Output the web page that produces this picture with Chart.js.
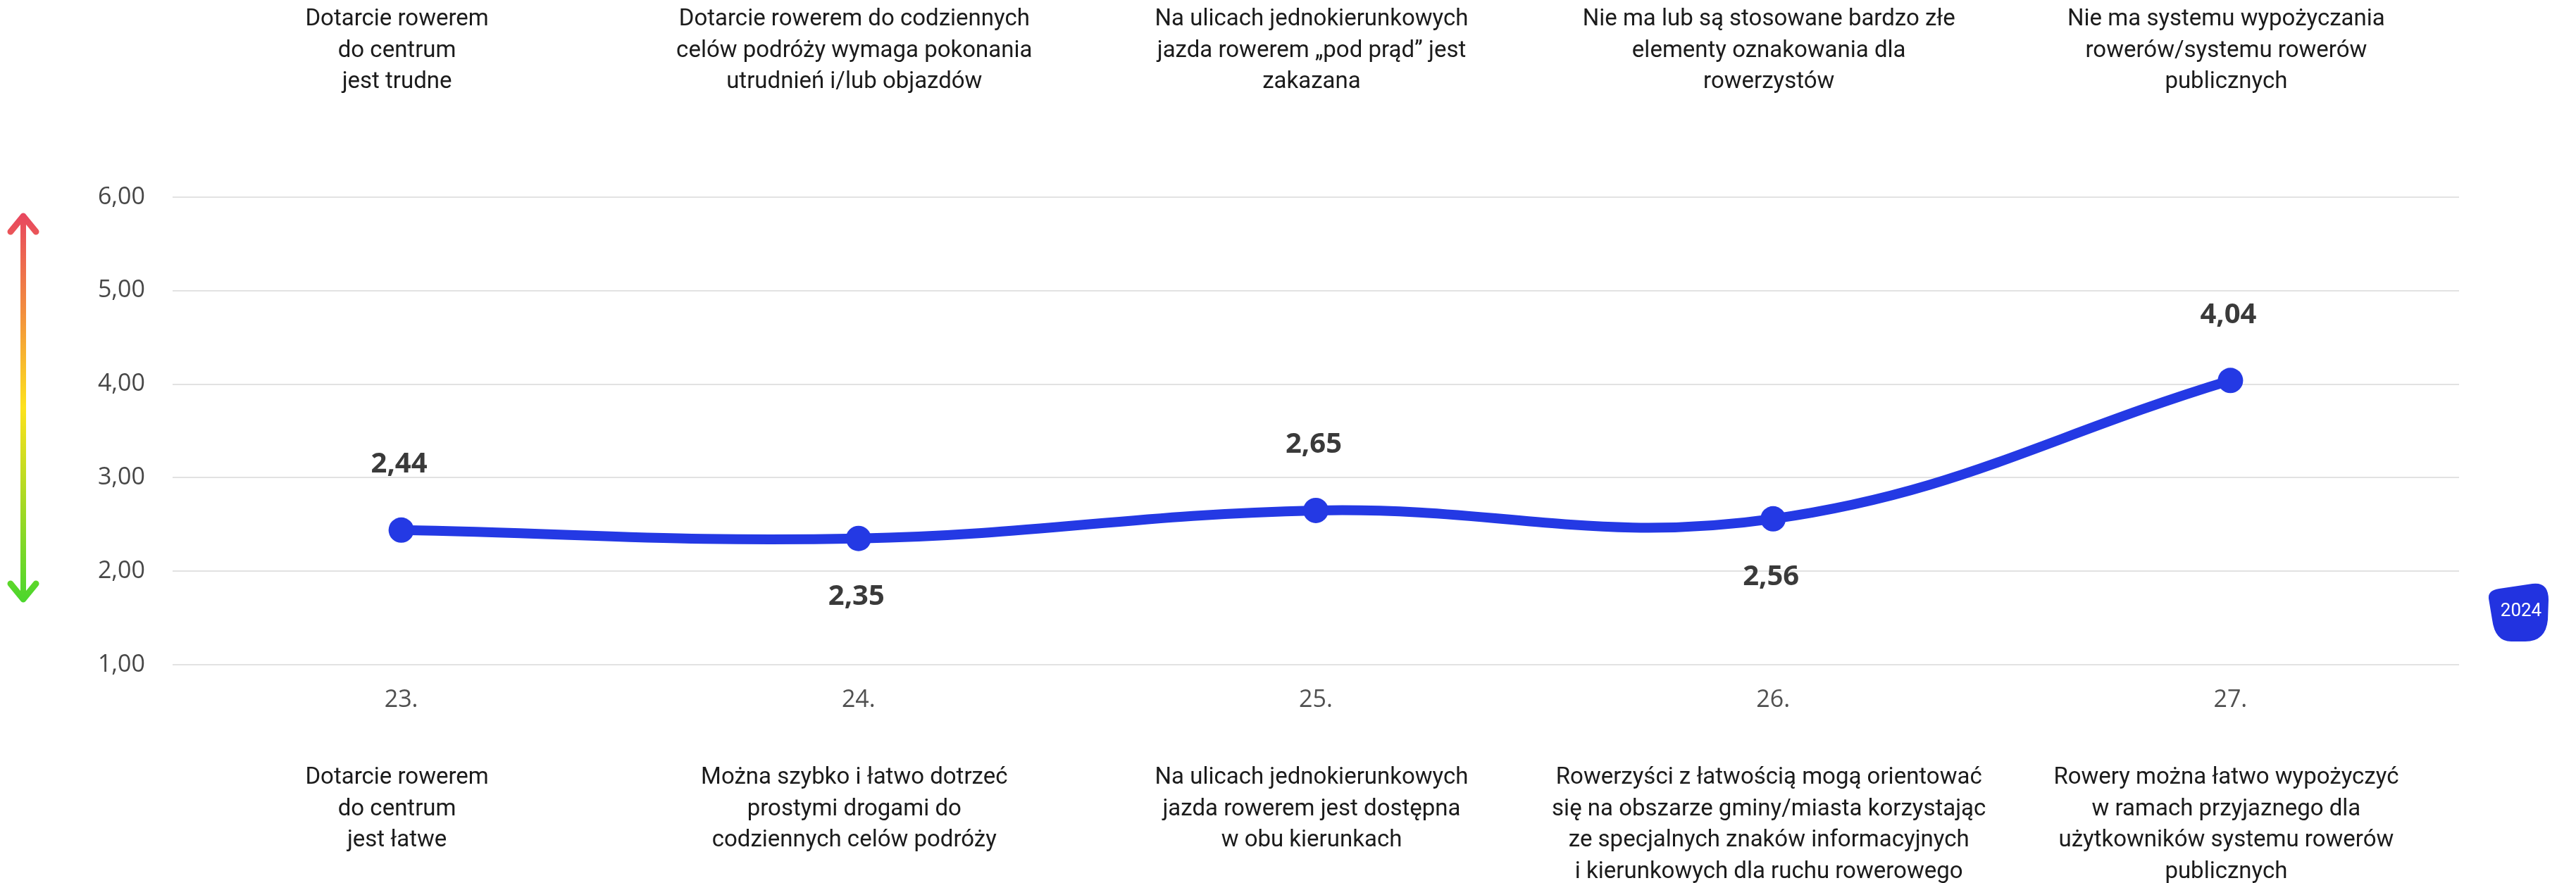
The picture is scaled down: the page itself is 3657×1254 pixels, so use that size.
<!DOCTYPE html>
<html>
<head>
<meta charset="utf-8">
<script src="https://cdn.jsdelivr.net/npm/chart.js@4.4.1/dist/chart.umd.min.js"></script>
<style>
  html, body { margin: 0; padding: 0; background: #ffffff; }
  canvas { display: block; }
</style>
</head>
<body>
<canvas id="c" width="3657" height="1254"></canvas>
<script>
// ---- data ----
const categories = ['23.', '24.', '25.', '26.', '27.'];
const seriesLabel = '2024';
const values2024 = [2.44, 2.35, 2.65, 2.56, 4.04];
const yMin = 1;
const yMax = 6;
const yStep = 1;
const topTexts = [
  ['Dotarcie rowerem', 'do centrum', 'jest trudne'],
  ['Dotarcie rowerem do codziennych', 'celów podróży wymaga pokonania', 'utrudnień i/lub objazdów'],
  ['Na ulicach jednokierunkowych', 'jazda rowerem „pod prąd” jest', 'zakazana'],
  ['Nie ma lub są stosowane bardzo złe', 'elementy oznakowania dla', 'rowerzystów'],
  ['Nie ma systemu wypożyczania', 'rowerów/systemu rowerów', 'publicznych']
];
const bottomTexts = [
  ['Dotarcie rowerem', 'do centrum', 'jest łatwe'],
  ['Można szybko i łatwo dotrzeć', 'prostymi drogami do', 'codziennych celów podróży'],
  ['Na ulicach jednokierunkowych', 'jazda rowerem jest dostępna', 'w obu kierunkach'],
  ['Rowerzyści z łatwością mogą orientować', 'się na obszarze gminy/miasta korzystając', 'ze specjalnych znaków informacyjnych', 'i kierunkowych dla ruchu rowerowego'],
  ['Rowery można łatwo wypożyczyć', 'w ramach przyjaznego dla', 'użytkowników systemu rowerów', 'publicznych']
];

const LINE_COLOR = '#2439E4';
const fmt = v => Number(v).toFixed(2).replace('.', ',');

// ---- plugins ----
const decorPlugin = {
  id: 'decor',
  afterDraw(chart) {
    const ctx = chart.ctx;
    const xs = chart.scales.x;
    const area = chart.chartArea;
    const meta = chart.getDatasetMeta(0);

    // category descriptions (top & bottom)
    ctx.save();
    ctx.fillStyle = '#1b1b1b';
    ctx.font = '400 33px Roboto';
    ctx.textAlign = 'center';
    ctx.textBaseline = 'alphabetic';
    const lh = 44.5;
    categories.forEach((c, i) => {
      const x = xs.getPixelForValue(i) - 6;
      (topTexts[i] || []).forEach((line, j) => {
        ctx.fillText(line, x, 36 + j * lh);
      });
      (bottomTexts[i] || []).forEach((line, j) => {
        ctx.fillText(line, x, area.bottom + 169 + j * lh);
      });
    });
    ctx.restore();

    // value labels
    ctx.save();
    ctx.fillStyle = '#3a3a3a';
    ctx.font = '700 40px "Open Sans"';
    ctx.textAlign = 'center';
    ctx.textBaseline = 'middle';
    meta.data.forEach((pt, i) => {
      const above = i % 2 === 0;
      const y = above ? pt.y - 93 : pt.y + 83;
      ctx.fillText(fmt(values2024[i]), pt.x - 3, y);
    });
    ctx.restore();

    // gradient double arrow on the left
    ctx.save();
    const ax = 33;
    const top = area.top + 24;
    const bot = area.bottom - 90;
    const g = ctx.createLinearGradient(0, top, 0, bot);
    g.addColorStop(0, '#E8475F');
    g.addColorStop(0.25, '#F28D3E');
    g.addColorStop(0.5, '#FDE21D');
    g.addColorStop(0.75, '#A5D924');
    g.addColorStop(1, '#4BD62C');
    ctx.strokeStyle = g;
    ctx.lineCap = 'round';
    ctx.lineJoin = 'round';
    ctx.lineWidth = 8;
    ctx.beginPath();
    ctx.moveTo(ax, top + 4);
    ctx.lineTo(ax, bot - 4);
    ctx.stroke();
    ctx.lineWidth = 9;
    ctx.beginPath();
    ctx.moveTo(ax - 18, top + 25);
    ctx.lineTo(ax, top + 3);
    ctx.lineTo(ax + 18, top + 25);
    ctx.stroke();
    ctx.beginPath();
    ctx.moveTo(ax - 18, bot - 25);
    ctx.lineTo(ax, bot - 3);
    ctx.lineTo(ax + 18, bot - 25);
    ctx.stroke();
    ctx.restore();

    // legend badge
    ctx.save();
    const cx = area.right + 84;
    const cy = area.bottom - 74;
    ctx.fillStyle = '#2233E0';
    ctx.beginPath();
    ctx.moveTo(cx - 42, cy - 20);
    ctx.quadraticCurveTo(cx - 43, cy - 32, cx - 27, cy - 34);
    ctx.lineTo(cx + 20, cy - 41);
    ctx.quadraticCurveTo(cx + 43, cy - 44, cx + 43, cy - 18);
    ctx.lineTo(cx + 42, cy + 10);
    ctx.quadraticCurveTo(cx + 39, cy + 41, cx + 10, cy + 41);
    ctx.lineTo(cx - 10, cy + 41);
    ctx.quadraticCurveTo(cx - 33, cy + 41, cx - 37, cy + 10);
    ctx.closePath();
    ctx.fill();
    ctx.fillStyle = '#ffffff';
    ctx.font = '400 26px Roboto';
    ctx.textAlign = 'center';
    ctx.textBaseline = 'middle';
    ctx.fillText(seriesLabel, cx + 4, cy - 2);
    ctx.restore();
  }
};

new Chart(document.getElementById('c'), {
  type: 'line',
  data: {
    labels: categories,
    datasets: [{
      label: seriesLabel,
      data: values2024,
      borderColor: LINE_COLOR,
      backgroundColor: LINE_COLOR,
      borderWidth: 14,
      tension: 0.4,
      pointRadius: 18,
      pointHoverRadius: 18,
      pointBorderWidth: 0,
      pointBackgroundColor: LINE_COLOR,
      fill: false
    }]
  },
  options: {
    responsive: false,
    animation: false,
    devicePixelRatio: 1,
    layout: { padding: { top: 280, right: 166, left: 0, bottom: 0 } },
    plugins: {
      legend: { display: false },
      tooltip: { enabled: false },
      title: { display: false }
    },
    scales: {
      x: {
        offset: true,
        grid: { display: false, drawTicks: false },
        border: { display: false },
        ticks: {
          color: '#505050',
          font: { family: '"Open Sans"', size: 34 },
          padding: 30
        },
        afterFit(s) { s.height = 310; }
      },
      y: {
        min: yMin,
        max: yMax,
        grid: { color: '#e2e2e2', lineWidth: 2, drawTicks: false },
        border: { display: false },
        ticks: {
          stepSize: yStep,
          color: '#474747',
          font: { family: '"Open Sans"', size: 34 },
          padding: 39,
          callback: v => fmt(v)
        },
        afterFit(s) { s.width = 245; }
      }
    }
  },
  plugins: [decorPlugin]
});
</script>
</body>
</html>
